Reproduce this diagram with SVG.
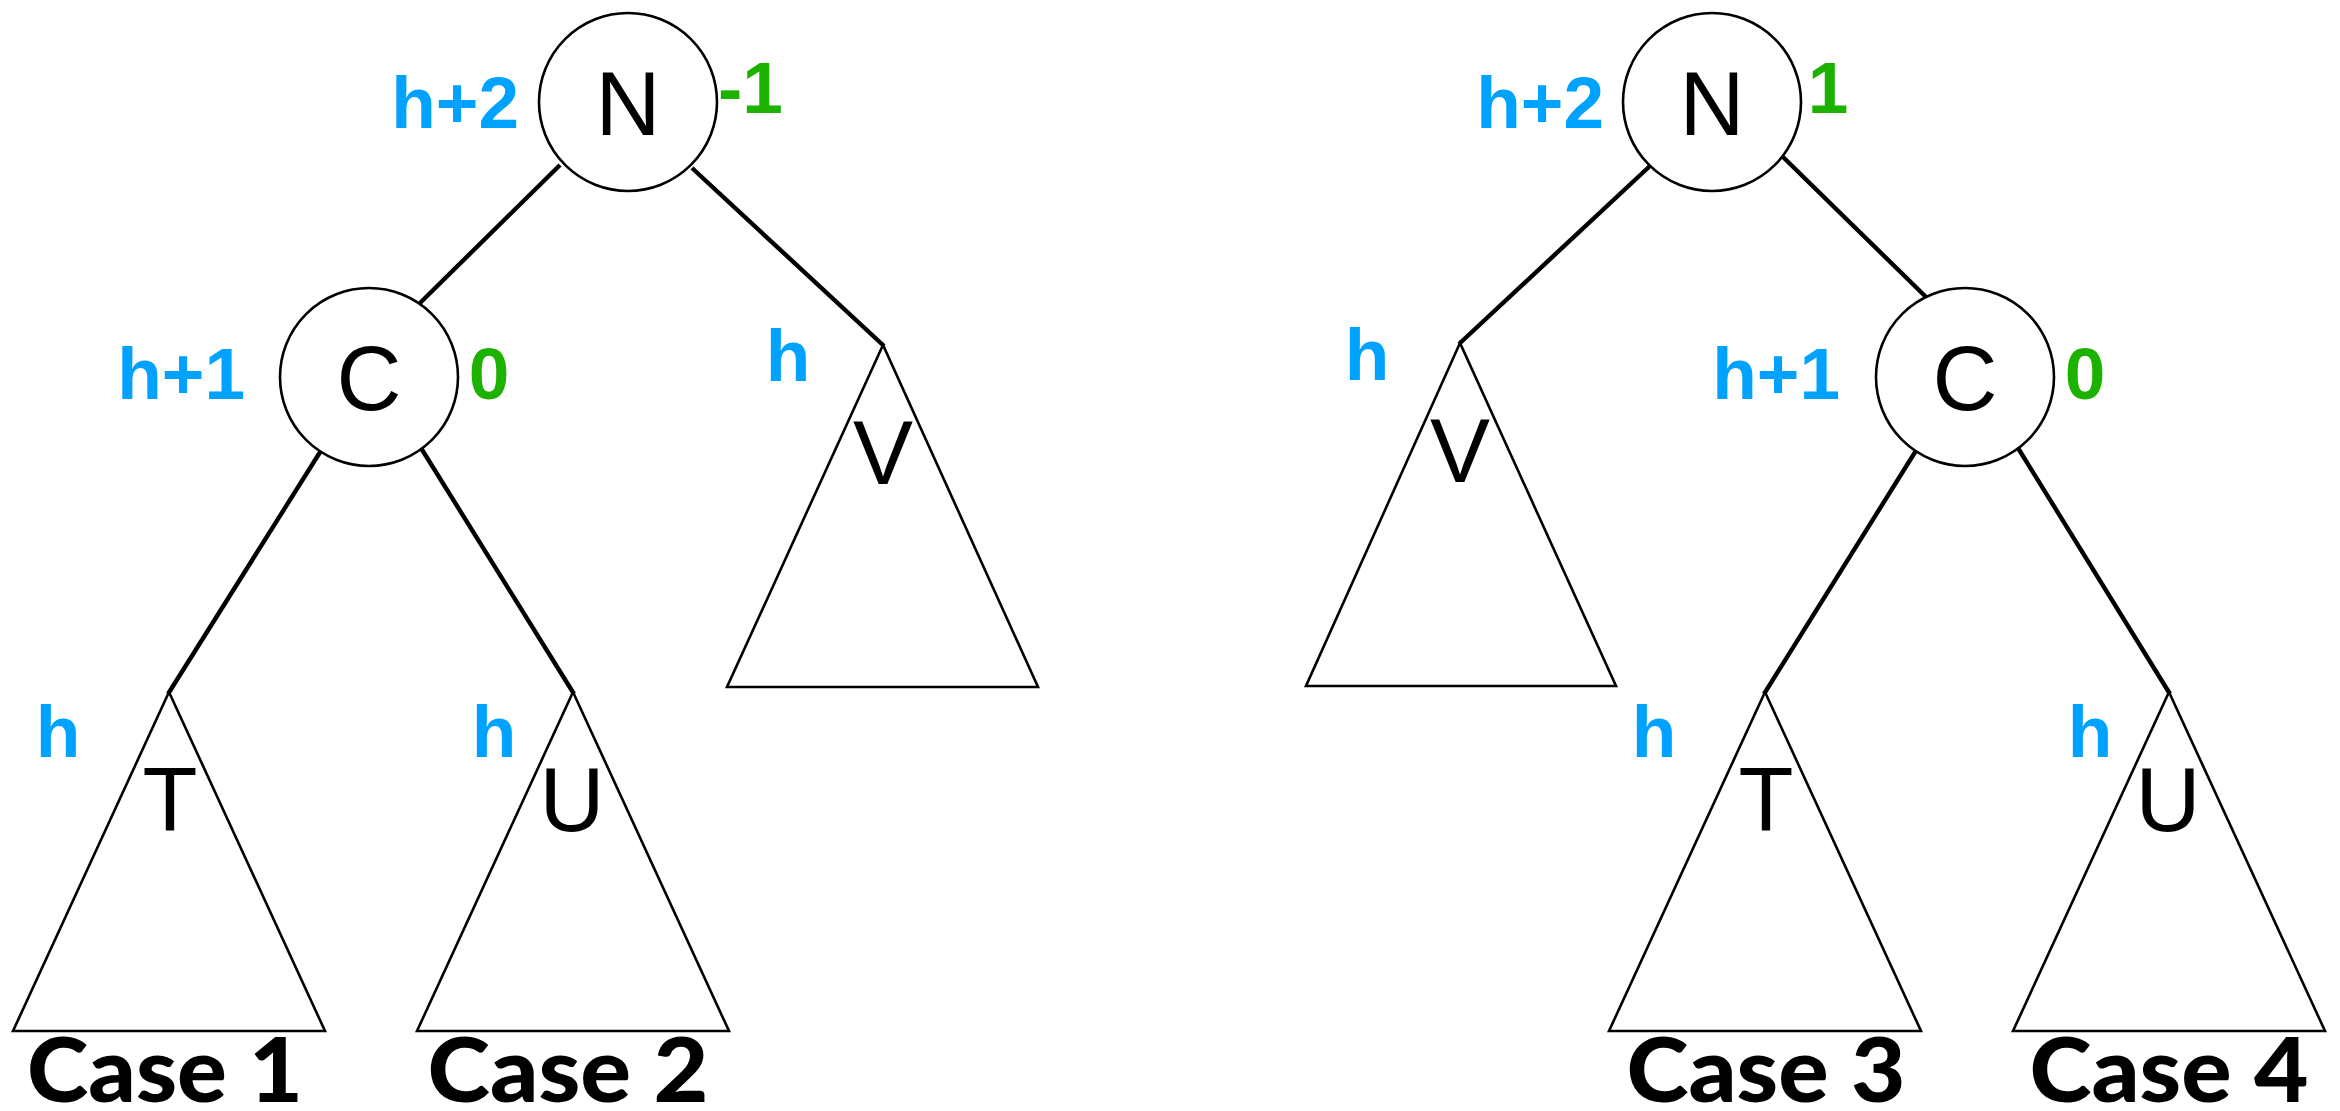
<svg xmlns="http://www.w3.org/2000/svg" width="2340" height="1111" viewBox="0 0 2340 1111">
<style>
.bg{fill:#ffffff}
.node{fill:#ffffff;stroke:#000;stroke-width:2.6}
.tri{fill:#ffffff;stroke:#000;stroke-width:2.6;stroke-linejoin:miter}
.edge{stroke:#000;stroke-width:4.4;stroke-linecap:butt;fill:none}
.name{font-family:"Liberation Sans",Arial,sans-serif;font-size:90px;fill:#000;text-anchor:middle}
.ht{font-family:"Liberation Sans",Arial,sans-serif;font-weight:bold;font-size:73px;fill:#00A2FF}
.bal{font-family:"Liberation Sans",Arial,sans-serif;font-weight:bold;font-size:73px;fill:#1DB100}
.case{font-family:Lato,"Open Sans",sans-serif;font-weight:900;font-size:90px;fill:#000;text-anchor:middle}
</style>
<rect class="bg" x="0" y="0" width="2340" height="1111"/>

<g id="connectors">
  <line class="edge" x1="560" y1="165" x2="420" y2="303"/>
  <line class="edge" x1="692" y1="168" x2="884" y2="346"/>
  <line class="edge" x1="322" y1="449" x2="168" y2="694"/>
  <line class="edge" x1="421" y1="448" x2="574" y2="694"/>
  <line class="edge" x1="1651" y1="165" x2="1459" y2="344"/>
  <line class="edge" x1="1783" y1="157" x2="1926" y2="297"/>
  <line class="edge" x1="1917" y1="449" x2="1764" y2="694"/>
  <line class="edge" x1="2018" y1="448" x2="2170" y2="694"/>
</g>

<!-- Left tree -->
<g id="left-N">
  <circle class="node" cx="628" cy="102" r="89"/>
  <text class="name" x="628" y="135">N</text>
  <text class="ht" x="519" y="128" text-anchor="end">h+2</text>
  <text class="bal" x="718" y="113">-1</text>
</g>
<g id="left-C">
  <circle class="node" cx="369" cy="377" r="89"/>
  <text class="name" x="369" y="410">C</text>
  <text class="ht" x="245" y="399" text-anchor="end">h+1</text>
  <text class="bal" x="489" y="399" text-anchor="middle">0</text>
</g>
<g id="left-V">
  <polygon class="tri" points="883,345 727,687 1038,687"/>
  <text class="name" x="883" y="484">V</text>
  <text class="ht" x="788" y="381" text-anchor="middle">h</text>
</g>
<g id="left-T">
  <polygon class="tri" points="169,692 13,1031 325,1031"/>
  <text class="name" x="170" y="831">T</text>
  <text class="ht" x="58" y="757" text-anchor="middle">h</text>
</g>
<g id="left-U">
  <polygon class="tri" points="573,692 417,1031 729,1031"/>
  <text class="name" x="572" y="831">U</text>
  <text class="ht" x="494" y="757" text-anchor="middle">h</text>
</g>
<g id="case1"><text class="case" x="165" y="1102" textLength="276" lengthAdjust="spacingAndGlyphs">Case 1</text></g>
<g id="case2"><text class="case" x="568" y="1102" textLength="281" lengthAdjust="spacingAndGlyphs">Case 2</text></g>

<!-- Right tree -->
<g id="right-N">
  <circle class="node" cx="1712" cy="102" r="89"/>
  <text class="name" x="1712" y="135">N</text>
  <text class="ht" x="1604" y="128" text-anchor="end">h+2</text>
  <text class="bal" x="1828" y="113" text-anchor="middle">1</text>
</g>
<g id="right-C">
  <circle class="node" cx="1965" cy="377" r="89"/>
  <text class="name" x="1965" y="410">C</text>
  <text class="ht" x="1840" y="399" text-anchor="end">h+1</text>
  <text class="bal" x="2085" y="399" text-anchor="middle">0</text>
</g>
<g id="right-V">
  <polygon class="tri" points="1460,343 1306,686 1616,686"/>
  <text class="name" x="1460" y="482">V</text>
  <text class="ht" x="1367" y="380" text-anchor="middle">h</text>
</g>
<g id="right-T">
  <polygon class="tri" points="1765,692 1609,1031 1921,1031"/>
  <text class="name" x="1766" y="831">T</text>
  <text class="ht" x="1654" y="757" text-anchor="middle">h</text>
</g>
<g id="right-U">
  <polygon class="tri" points="2169,692 2013,1031 2325,1031"/>
  <text class="name" x="2168" y="831">U</text>
  <text class="ht" x="2090" y="757" text-anchor="middle">h</text>
</g>
<g id="case3"><text class="case" x="1766" y="1102" textLength="279" lengthAdjust="spacingAndGlyphs">Case 3</text></g>
<g id="case4"><text class="case" x="2169" y="1102" textLength="279" lengthAdjust="spacingAndGlyphs">Case 4</text></g>
</svg>
